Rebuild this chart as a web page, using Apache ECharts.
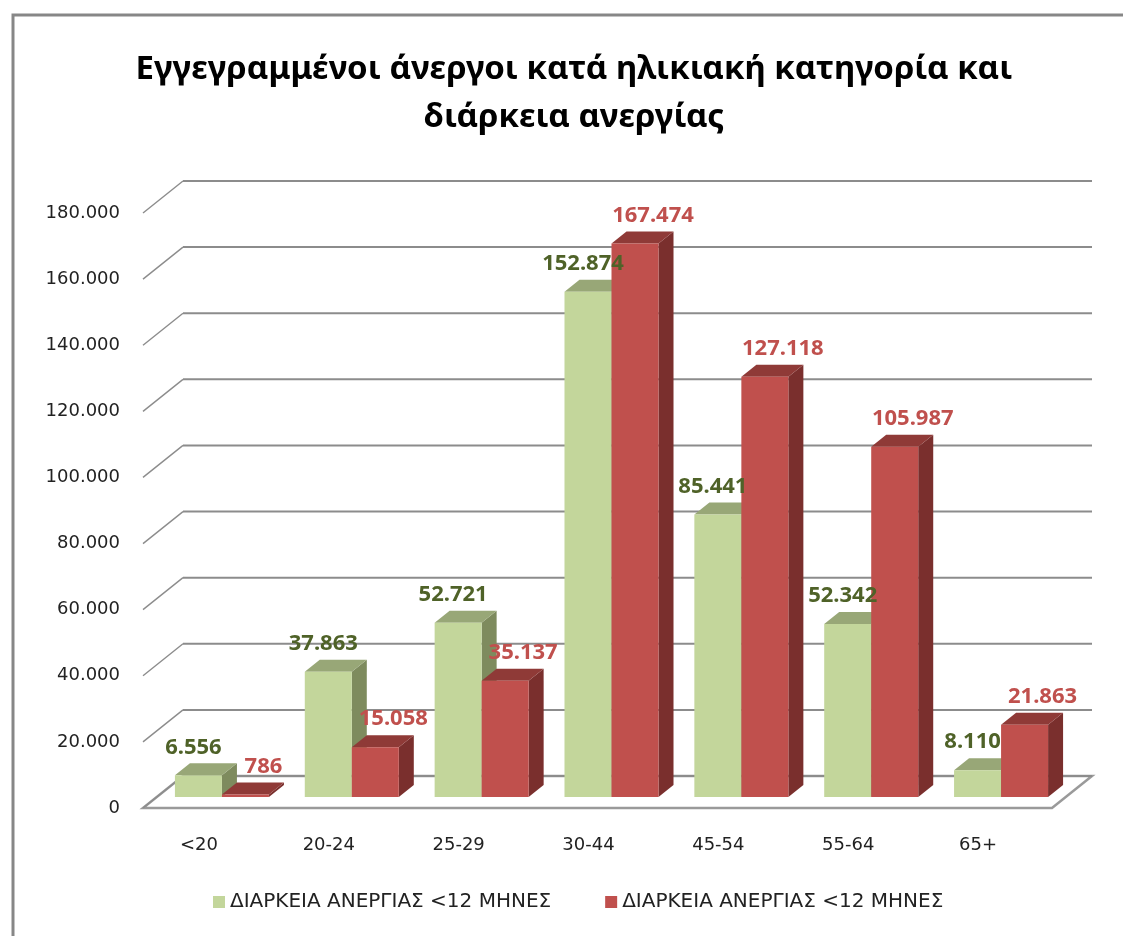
<!DOCTYPE html>
<html>
<head>
    <meta charset="UTF-8">
    <title>Εγγεγραμμένοι άνεργοι</title>
    <script src="https://cdn.jsdelivr.net/npm/echarts@6/dist/echarts.min.js"></script>
    <style>
        html, body { margin: 0; padding: 0; background: #fff; }
        #chartContainer { width: 1123px; height: 936px; }
    </style>
</head>
<body>
<div id="chartContainer"></div>
<script>
    // κατηγορίες ηλικίας και τιμές
    var categories = ['<20', '20-24', '25-29', '30-44', '45-54', '55-64', '65+'];
    var greenValues = [6556, 37863, 52721, 152874, 85441, 52342, 8110];
    var redValues = [786, 15058, 35137, 167474, 127118, 105987, 21863];
    var yTicks = [0, 20000, 40000, 60000, 80000, 100000, 120000, 140000, 160000, 180000];
    var seriesNames = ['ΔΙΑΡΚΕΙΑ ΑΝΕΡΓΙΑΣ <12 ΜΗΝΕΣ', 'ΔΙΑΡΚΕΙΑ ΑΝΕΡΓΙΑΣ <12 ΜΗΝΕΣ '];

    // βάθος της 3Δ απεικόνισης
    var WALL_DX = 40, WALL_DY = -32;
    var PLANE_DX = 14, PLANE_DY = -11;
    var BAR_DX = 15, BAR_DY = -12;

    function fmt(v) {
        return String(v).replace(/\B(?=(\d{3})+(?!\d))/g, '.');
    }

    function wallRender(params, api) {
        var cs = params.coordSys;
        var v = api.value(0);
        var y = api.coord([0, v])[1];
        var left = cs.x, right = cs.x + cs.width;
        var children = [];
        if (v === 0) {
            children.push({
                type: 'polygon',
                shape: {points: [[left, y], [right, y], [right + WALL_DX, y + WALL_DY], [left + WALL_DX, y + WALL_DY]]},
                style: {fill: '#ffffff', stroke: '#9a9a9a', lineWidth: 2.5}
            });
        }
        children.push({
            type: 'line',
            shape: {x1: left, y1: y, x2: left + WALL_DX, y2: y + WALL_DY},
            style: {stroke: '#8c8c8c', lineWidth: 1.5}
        });
        children.push({
            type: 'line',
            shape: {x1: left + WALL_DX, y1: y + WALL_DY, x2: right + WALL_DX, y2: y + WALL_DY},
            style: {stroke: '#8c8c8c', lineWidth: 2}
        });
        return {type: 'group', children: children};
    }

    // bar geometry shared by bars and labels
    function barBox(sIdx, api) {
        var cat = api.value(0), v = api.value(1);
        var base = api.coord([cat, 0]);
        var tip = api.coord([cat, v]);
        var band = api.size([1, 0])[0];
        var w = band * 0.362;
        var cx = base[0] + PLANE_DX + (sIdx === 0 ? -w / 2 : w / 2);
        return {v: v, cx: cx, x0: cx - w / 2, x1: cx + w / 2, w: w, y0: base[1] + PLANE_DY, y1: tip[1] + PLANE_DY};
    }

    function barRender(sIdx, colors) {
        return function (params, api) {
            var b = barBox(sIdx, api);
            return {
                type: 'group',
                children: [
                    {
                        type: 'polygon',
                        shape: {points: [[b.x1, b.y0], [b.x1 + BAR_DX, b.y0 + BAR_DY], [b.x1 + BAR_DX, b.y1 + BAR_DY], [b.x1, b.y1]]},
                        style: {fill: colors[2]}
                    },
                    {
                        type: 'polygon',
                        shape: {points: [[b.x0, b.y1], [b.x1, b.y1], [b.x1 + BAR_DX, b.y1 + BAR_DY], [b.x0 + BAR_DX, b.y1 + BAR_DY]]},
                        style: {fill: colors[1]}
                    },
                    {
                        type: 'rect',
                        shape: {x: b.x0, y: b.y1, width: b.w, height: b.y0 - b.y1},
                        style: {fill: colors[0]}
                    }
                ]
            };
        };
    }

    function labelRender(sIdx, color, dx) {
        return function (params, api) {
            var b = barBox(sIdx, api);
            return {
                type: 'text',
                style: {
                    text: fmt(b.v),
                    x: b.cx + dx,
                    y: b.y1 - 28,
                    align: 'center',
                    verticalAlign: 'middle',
                    fill: color,
                    font: 'bold 22px "Noto Sans"'
                }
            };
        };
    }

    function pairs(arr) {
        return arr.map(function (v, i) { return [i, v]; });
    }

    var myChart = echarts.init(document.getElementById('chartContainer'));
    var option = {
        animation: false,
        graphic: [{
            type: 'rect',
            shape: {x: 13, y: 15, width: 1200, height: 1000},
            style: {fill: 'none', stroke: '#878787', lineWidth: 3},
            z: -10
        }],
        title: {
            text: 'Εγγεγραμμένοι άνεργοι κατά ηλικιακή κατηγορία και\nδιάρκεια ανεργίας',
            left: 569,
            textAlign: 'center',
            top: 41,
            textStyle: {
                fontFamily: 'Noto Sans',
                fontWeight: 'bold',
                fontSize: 33,
                lineHeight: 48,
                color: '#000'
            }
        },
        legend: {
            data: seriesNames,
            left: 213,
            top: 892,
            padding: 0,
            icon: 'rect',
            itemWidth: 12,
            itemHeight: 12,
            itemGap: 54,
            textStyle: {fontFamily: 'DejaVu Sans', fontSize: 20, color: '#222'}
        },
        grid: {left: 143, right: 71, top: 213, bottom: 128},
        xAxis: {
            type: 'category',
            data: categories,
            axisLine: {show: false},
            axisTick: {show: false},
            axisLabel: {
                margin: 28,
                padding: [0, 18, 0, 0],
                fontFamily: 'DejaVu Sans',
                fontSize: 18,
                color: '#222'
            }
        },
        yAxis: {
            type: 'value',
            min: 0,
            max: 180000,
            interval: 20000,
            axisLine: {show: false},
            axisTick: {show: false},
            splitLine: {show: false},
            axisLabel: {
                margin: 23,
                fontFamily: 'DejaVu Sans',
                fontSize: 18,
                color: '#222',
                formatter: function (v) { return fmt(v); }
            }
        },
        series: [
            {
                type: 'custom',
                name: 'walls',
                silent: true,
                z: 1,
                data: yTicks.map(function (v) { return [v]; }),
                encode: {y: 0},
                renderItem: wallRender
            },
            {
                type: 'custom',
                name: seriesNames[0],
                z: 2,
                itemStyle: {color: '#C3D69B'},
                data: pairs(greenValues),
                encode: {x: 0, y: 1},
                renderItem: barRender(0, ['#C3D69B', '#98A777', '#7E8B5E'])
            },
            {
                type: 'custom',
                name: seriesNames[1],
                z: 3,
                itemStyle: {color: '#C0504D'},
                data: pairs(redValues),
                encode: {x: 0, y: 1},
                renderItem: barRender(1, ['#C0504D', '#8F3A37', '#7A2F2D'])
            },
            {
                type: 'custom',
                name: 'greenLabels',
                silent: true,
                z: 5,
                data: pairs(greenValues),
                encode: {x: 0, y: 1},
                renderItem: labelRender(0, '#4F6228', -5)
            },
            {
                type: 'custom',
                name: 'redLabels',
                silent: true,
                z: 5,
                data: pairs(redValues),
                encode: {x: 0, y: 1},
                renderItem: labelRender(1, '#C0504D', 18)
            }
        ]
    };
    myChart.setOption(option);
</script>
</body>
</html>
